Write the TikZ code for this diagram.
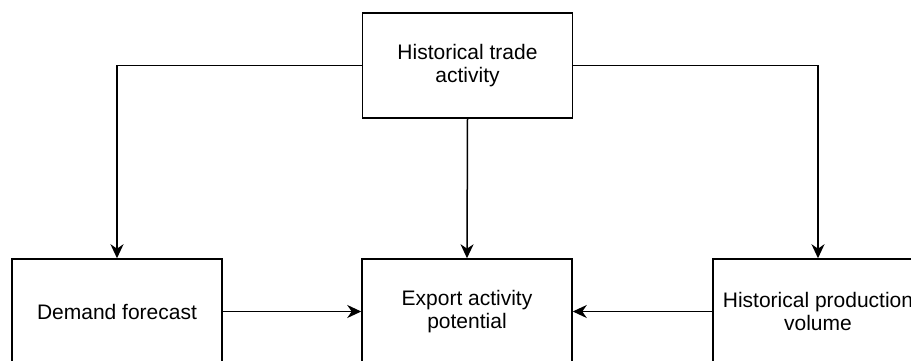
\documentclass[tikz,border=0pt]{standalone}
\usepackage{fontspec}
\setmainfont{Liberation Sans}
\usetikzlibrary{arrows.meta}
\begin{document}
\begin{tikzpicture}[x=0.5pt,y=0.5pt,
  box/.style={draw,line width=0.75pt,minimum width=105pt,minimum height=52.5pt,
    align=center,inner sep=0pt,font=\fontsize{10.5}{11.4}\selectfont},
  link/.style={line width=0.75pt,-{Stealth[length=7pt,width=6.5pt,inset=2.2pt]}}]
  \useasboundingbox (0,0) rectangle (911,360);
  \clip (0,0) rectangle (911,360);
  \node[box] (trade) at (467.5,294.5) {Historical trade\\activity};
  \node[box] (demand) at (117,48.5) {Demand forecast};
  \node[box] (export) at (467,48.5) {Export activity\\potential};
  \node[box] (production) at (818,48.5) {Historical production\\volume};
  \draw[link] (trade.west) -| (demand.north);
  \draw[link] (trade.east) -| (production.north);
  \draw[link] (trade.south) -- (export.north);
  \draw[link] (demand.east) -- (export.west);
  \draw[link] (production.west) -- (export.east);
\end{tikzpicture}
\end{document}
